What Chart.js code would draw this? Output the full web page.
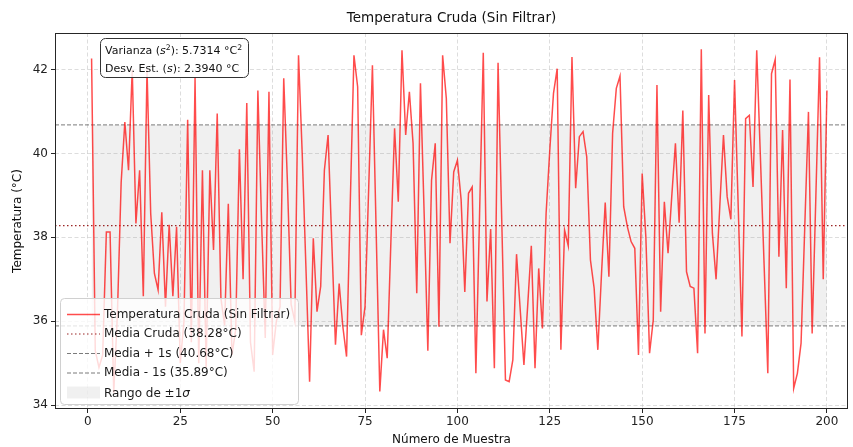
<!DOCTYPE html>
<html>
<head>
<meta charset="utf-8">
<script src="https://cdn.jsdelivr.net/npm/chart.js@4.4.1/dist/chart.umd.min.js"></script>
<style>
  html, body { margin: 0; padding: 0; background: #fff; }
  #wrap { width: 853px; height: 447px; }
</style>
</head>
<body>
<div id="wrap"><canvas id="chart" width="853" height="447"></canvas></div>
<script>
// ===========================================
// DATOS
// ===========================================
const temperaturas = [
    42.26, 35.3, 34.9, 35.2, 38.13, 38.13, 34.3, 36.2, 39.3, 40.75,
    39.6, 42.0, 38.33, 39.6, 36.6, 42.0, 38.57, 37.14, 36.75, 38.6,
    36.35, 38.3, 36.6, 38.25, 35.0, 36.0, 40.8, 35.5, 41.8, 35.0,
    39.6, 34.9, 39.6, 37.7, 40.95, 36.55, 35.9, 38.8, 35.2, 35.8,
    40.1, 37.0, 41.2, 35.5, 34.8, 41.5, 38.4, 35.6, 41.47, 35.2,
    36.0, 36.35, 41.79, 39.3, 36.4, 36.0, 42.34, 40.0, 37.3, 34.56,
    37.98, 36.23, 36.83, 39.6, 40.44, 37.9, 35.44, 36.9, 35.87, 35.16,
    38.8, 42.34, 41.59, 35.67, 36.35, 39.2, 42.1, 38.2, 34.33, 35.8,
    35.12, 37.9, 40.6, 38.85, 42.46, 40.44, 41.47, 40.24, 36.67, 41.67,
    38.57, 35.3, 39.36, 40.24, 35.87, 42.34, 41.31, 37.86, 39.56, 39.84,
    38.9, 36.7, 39.05, 39.2, 34.76, 38.57, 42.4, 36.47, 38.2, 34.88,
    42.16, 38.4, 34.6, 34.56, 35.08, 37.6, 36.27, 34.96, 36.35, 37.8,
    34.88, 37.26, 35.83, 38.57, 40.08, 41.43, 42.02, 35.32, 38.17, 37.8,
    42.3, 39.17, 40.4, 40.52, 39.92, 37.46, 36.79, 35.32, 37.14, 38.83,
    37.06, 40.48, 41.55, 41.84, 38.73, 38.25, 37.9, 37.74, 35.2, 39.52,
    38.0, 35.24, 36.03, 41.63, 36.23, 38.85, 37.62, 38.97, 40.24, 38.35,
    41.02, 37.18, 36.83, 36.79, 35.24, 42.48, 35.71, 41.39, 38.1, 37.0,
    38.73, 40.44, 38.97, 38.43, 41.75, 38.7, 35.64, 40.83, 40.91, 39.2,
    42.46, 39.9, 37.34, 34.76, 41.9, 42.24, 37.54, 40.56, 36.79, 41.76,
    34.4, 34.76, 35.48, 38.25, 40.99, 35.71, 38.97, 42.29, 37.0, 41.5
];

const xTicks = [0, 25, 50, 75, 100, 125, 150, 175, 200];
const yTicks = [34, 36, 38, 40, 42];

const mediaCruda = 38.28;
const mediaMas1s = 40.68;
const mediaMenos1s = 35.89;
const varianzaTxt = '5.7314';
const desvEstTxt = '2.3940';

const titulo = 'Temperatura Cruda (Sin Filtrar)';
const tituloX = 'Número de Muestra';
const tituloY = 'Temperatura (°C)';

// limites de los ejes
const xMin = -8.9, xMax = 205.7;
const yMin = 33.91, yMax = 42.87;

const FONT = "'DejaVu Sans', sans-serif";
const ROJO = 'rgba(255, 0, 0, 0.7)';
const ROJO_OSCURO = 'rgba(139, 0, 0, 0.85)';
const GRIS_LINEA = 'rgba(100, 100, 100, 0.85)';
const GRIS_BANDA = 'rgba(128, 128, 128, 0.12)';

// ===========================================
// HELPERS
// ===========================================
const puntos = temperaturas.map((t, i) => ({ x: i + 1, y: t }));
const lineaH = v => [{ x: xMin, y: v }, { x: xMax, y: v }];
const bandaH = v => [{ x: 1, y: v }, { x: temperaturas.length, y: v }];

function roundRect(ctx, x, y, w, h, r) {
    ctx.beginPath();
    ctx.moveTo(x + r, y);
    ctx.lineTo(x + w - r, y);
    ctx.arcTo(x + w, y, x + w, y + r, r);
    ctx.lineTo(x + w, y + h - r);
    ctx.arcTo(x + w, y + h, x + w - r, y + h, r);
    ctx.lineTo(x + r, y + h);
    ctx.arcTo(x, y + h, x, y + h - r, r);
    ctx.lineTo(x, y + r);
    ctx.arcTo(x, y, x + r, y, r);
    ctx.closePath();
}

// dibuja texto por partes: normal, cursiva y superindice
function textoMixto(ctx, partes, x, y, size) {
    ctx.textBaseline = 'alphabetic';
    ctx.textAlign = 'left';
    let cx = x;
    partes.forEach(p => {
        if (p.st === 'i') {
            ctx.font = 'italic ' + size + 'px ' + FONT;
            ctx.fillText(p.t, cx, y);
        } else if (p.st === 'sup') {
            ctx.font = (size * 0.7) + 'px ' + FONT;
            ctx.fillText(p.t, cx, y - size * 0.38);
        } else {
            ctx.font = size + 'px ' + FONT;
            ctx.fillText(p.t, cx, y);
        }
        cx += ctx.measureText(p.t).width;
    });
}

// ===========================================
// PLUGINS
// ===========================================
const marcoPlugin = {
    id: 'marco',
    afterDatasetsDraw(chart) {
        const { ctx, chartArea: a } = chart;
        ctx.save();
        ctx.strokeStyle = '#262626';
        ctx.lineWidth = 1;
        ctx.strokeRect(Math.round(a.left) + 0.5, Math.round(a.top) + 0.5,
            Math.round(a.right - a.left) - 1, Math.round(a.bottom - a.top) - 1);
        ctx.restore();
    }
};

const decoracionPlugin = {
    id: 'decoracion',
    afterDraw(chart) {
        const { ctx, chartArea: a } = chart;
        ctx.save();

        // titulo
        ctx.fillStyle = '#111';
        ctx.font = '13.5px ' + FONT;
        ctx.textAlign = 'center';
        ctx.textBaseline = 'middle';
        ctx.fillText(titulo, (a.left + a.right) / 2, 18);

        // caja de estadisticas
        roundRect(ctx, 100.5, 38.5, 148, 39, 5);
        ctx.fillStyle = 'rgba(255,255,255,0.85)';
        ctx.fill();
        ctx.strokeStyle = '#333';
        ctx.lineWidth = 1;
        ctx.stroke();
        ctx.fillStyle = '#111';
        textoMixto(ctx, [
            { t: 'Varianza (' }, { t: 's', st: 'i' }, { t: '2', st: 'sup' },
            { t: '): ' + varianzaTxt + ' °C' }, { t: '2', st: 'sup' }
        ], 105, 54, 11);
        textoMixto(ctx, [
            { t: 'Desv. Est. (' }, { t: 's', st: 'i' }, { t: '): ' + desvEstTxt + ' °C' }
        ], 105, 71.5, 11);

        // leyenda
        const lx = 60.5, ly = 298.5, lw = 238, lh = 106;
        roundRect(ctx, lx, ly, lw, lh, 4);
        ctx.fillStyle = 'rgba(255,255,255,0.8)';
        ctx.fill();
        ctx.strokeStyle = '#d0d0d0';
        ctx.lineWidth = 1;
        ctx.stroke();

        const filas = [314.5, 334, 353.5, 373, 392.5];
        const h0 = 67, h1 = 100, tx = 104;
        const linea = (y, color, dash, w) => {
            ctx.beginPath();
            ctx.setLineDash(dash);
            ctx.strokeStyle = color;
            ctx.lineWidth = w;
            ctx.moveTo(h0, y);
            ctx.lineTo(h1, y);
            ctx.stroke();
            ctx.setLineDash([]);
        };
        linea(filas[0], ROJO, [], 1.5);
        linea(filas[1], ROJO_OSCURO, [1.5, 2.5], 1.2);
        linea(filas[2], GRIS_LINEA, [4, 2], 1);
        linea(filas[3], GRIS_LINEA, [4, 2], 1);
        ctx.fillStyle = GRIS_BANDA;
        ctx.fillRect(h0, filas[4] - 6, h1 - h0, 12);

        const etiquetas = [
            'Temperatura Cruda (Sin Filtrar)',
            'Media Cruda (' + mediaCruda.toFixed(2) + '°C)',
            'Media + 1s (' + mediaMas1s.toFixed(2) + '°C)',
            'Media - 1s (' + mediaMenos1s.toFixed(2) + '°C)'
        ];
        ctx.fillStyle = '#1a1a1a';
        ctx.font = '12px ' + FONT;
        ctx.textAlign = 'left';
        ctx.textBaseline = 'middle';
        etiquetas.forEach((t, i) => ctx.fillText(t, tx, filas[i]));
        ctx.textBaseline = 'alphabetic';
        textoMixto(ctx, [{ t: 'Rango de ±1' }, { t: 'σ', st: 'i' }], tx, filas[4] + 4.5, 12);

        ctx.restore();
    }
};

// ===========================================
// GRAFICO
// ===========================================
const ejeComun = {
    type: 'linear',
    grid: {
        color: 'rgba(176, 176, 176, 0.55)',
        lineWidth: 0.8,
        drawTicks: true,
        tickLength: 4,
        tickColor: '#262626',
        tickWidth: 1,
        tickBorderDash: []
    },
    border: { display: false, dash: [4, 2.5] },
    ticks: {
        color: '#222',
        font: { family: FONT, size: 12 },
        maxRotation: 0,
        autoSkip: false
    },
    title: {
        display: true,
        color: '#111',
        font: { family: FONT, size: 12 }
    }
};

new Chart(document.getElementById('chart'), {
    type: 'line',
    data: {
        datasets: [
            {
                label: 'Temperatura Cruda (Sin Filtrar)',
                data: puntos,
                borderColor: ROJO,
                borderWidth: 1.5,
                pointRadius: 0,
                tension: 0,
                fill: false
            },
            {
                label: 'Media Cruda',
                data: lineaH(mediaCruda),
                borderColor: ROJO_OSCURO,
                borderWidth: 1.2,
                borderDash: [1.5, 2.5],
                pointRadius: 0,
                fill: false
            },
            {
                label: 'Media + 1s',
                data: lineaH(mediaMas1s),
                borderColor: GRIS_LINEA,
                borderWidth: 1,
                borderDash: [4, 2],
                pointRadius: 0,
                fill: false
            },
            {
                label: 'Media - 1s',
                data: lineaH(mediaMenos1s),
                borderColor: GRIS_LINEA,
                borderWidth: 1,
                borderDash: [4, 2],
                pointRadius: 0,
                fill: false
            },
            {
                label: 'Rango sup',
                data: bandaH(mediaMas1s),
                borderWidth: 0,
                pointRadius: 0,
                backgroundColor: GRIS_BANDA,
                fill: '+1'
            },
            {
                label: 'Rango inf',
                data: bandaH(mediaMenos1s),
                borderWidth: 0,
                pointRadius: 0,
                fill: false
            }
        ]
    },
    options: {
        responsive: false,
        animation: false,
        events: [],
        layout: { padding: { top: 33, right: 5, left: 0, bottom: 0 } },
        plugins: {
            legend: { display: false },
            title: { display: false },
            tooltip: { enabled: false }
        },
        scales: {
            x: {
                ...ejeComun,
                position: 'bottom',
                min: xMin,
                max: xMax,
                ticks: { ...ejeComun.ticks, padding: 2 },
                title: { ...ejeComun.title, text: tituloX, padding: { top: 0, bottom: 0 } },
                afterBuildTicks: s => { s.ticks = xTicks.map(v => ({ value: v })); },
                afterFit: s => { s.height = 38; }
            },
            y: {
                ...ejeComun,
                position: 'left',
                min: yMin,
                max: yMax,
                ticks: { ...ejeComun.ticks, padding: 3 },
                title: { ...ejeComun.title, text: tituloY, padding: { top: 11, bottom: 0 } },
                afterBuildTicks: s => { s.ticks = yTicks.map(v => ({ value: v })); },
                afterFit: s => { s.width = 55; }
            }
        }
    },
    plugins: [marcoPlugin, decoracionPlugin]
});
</script>
</body>
</html>
